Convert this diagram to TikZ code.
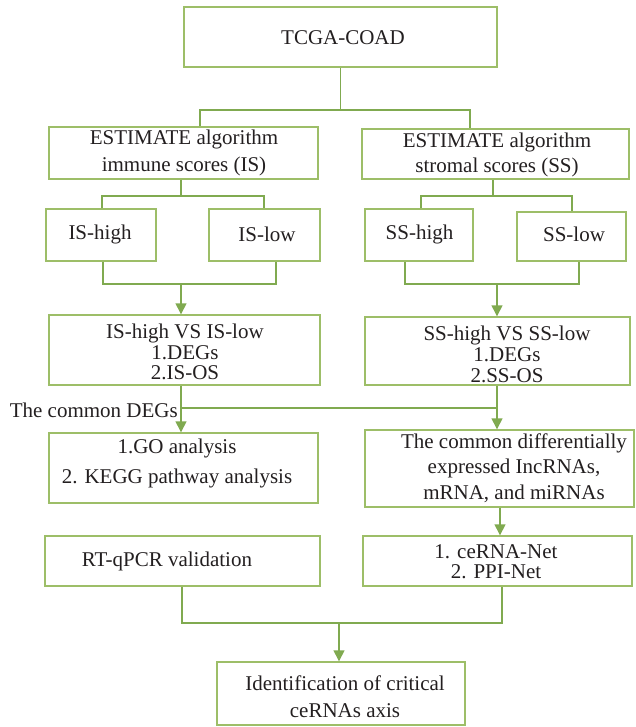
\documentclass[tikz,border=0pt]{standalone}
\usepackage{fontspec}
\setmainfont{Liberation Serif}
\usetikzlibrary{arrows.meta}
\definecolor{boxc}{RGB}{157,190,104}
\definecolor{linec}{RGB}{128,170,80}
\definecolor{txtc}{RGB}{35,31,32}
\newcommand\fsz[1]{\fontsize{21}{#1}\selectfont}
\newcommand\mkbox[5]{\node[box, minimum width={(#4-#2)*1pt}, minimum height={(#5-#3)*1pt}] (#1) at ({(#2+#4)/2},{(#3+#5)/2}) {};}
\begin{document}
\begin{tikzpicture}[x=1pt,y=-1pt,
  box/.style={draw=boxc, line width=1.4pt, inner sep=0pt, rectangle},
  txt/.style={text=txtc, align=center, inner sep=0pt},
  conn/.style={draw=linec, line width=1.4pt},
  arr/.style={conn, -{Triangle[width=11pt,length=11pt]}, fill=linec}]
\useasboundingbox (0,0) rectangle (636,727);
% boxes
\mkbox{tcga}{184}{7}{497}{67}
\mkbox{isbox}{49}{127}{318}{179}
\mkbox{ssbox}{362}{129}{629}{179}
\mkbox{ishigh}{46}{209}{156}{261}
\mkbox{islow}{209}{209}{320}{261}
\mkbox{sshigh}{365}{209}{473}{261}
\mkbox{sslow}{517}{212}{626}{261}
\mkbox{isvs}{49}{315}{320}{385}
\mkbox{ssvs}{365}{317}{630}{385}
\mkbox{go}{49}{433}{318}{503}
\mkbox{common}{365}{430}{634}{507}
\mkbox{rt}{45}{536}{320}{586}
\mkbox{cerna}{363}{536}{632}{586}
\mkbox{final}{217}{662}{465}{725}
% texts
\node[txt, font=\fsz{27}] (tcga-t) at (343,38) {TCGA-COAD};
\node[txt, font=\fsz{27}] (isbox-t) at (184,153) {ESTIMATE algorithm\\immune scores (IS)};
\node[txt, font=\fsz{25}] (ssbox-t) at (497,155) {ESTIMATE algorithm\\stromal scores (SS)};
\node[txt, font=\fsz{27}] (ishigh-t) at (100,234) {IS-high};
\node[txt, font=\fsz{27}] (islow-t) at (267,234) {IS-low};
\node[txt, font=\fsz{27}] (sshigh-t) at (419.5,234) {SS-high};
\node[txt, font=\fsz{27}] (sslow-t) at (574,234) {SS-low};
\node[txt, font=\fsz{20.5}] (isvs-t) at (185,352) {IS-high VS IS-low\\1.DEGs\\2.IS-OS};
\node[txt, font=\fsz{21}] (ssvs-t) at (507,354) {SS-high VS SS-low\\1.DEGs\\2.SS-OS};
\node[txt, font=\fsz{30}] (go-t) at (177,463) {1.GO analysis\\2. KEGG pathway analysis};
\node[txt, font=\fsz{25.5}] (common-t) at (514,468) {The common differentially\\expressed IncRNAs,\\mRNA, and miRNAs};
\node[txt, font=\fsz{27}] (rt-t) at (167,561) {RT-qPCR validation};
\node[txt, font=\fsz{20}] (cerna-t) at (496,562) {1. ceRNA-Net\\2. PPI-Net};
\node[txt, font=\fsz{27}] (final-t) at (345,696.5) {Identification of critical\\ceRNAs axis};
\node[txt, font=\fsz{27}, anchor=east] (deg-t) at (178,410) {The common DEGs};
% junction coordinates
\coordinate (a1) at (200,110); \coordinate (a2) at (470,110);
\coordinate (b0) at (181,196); \coordinate (b1) at (102,196); \coordinate (b2) at (264,196);
\coordinate (c0) at (493,196); \coordinate (c1) at (421,196); \coordinate (c2) at (572,196);
\coordinate (d0) at (181,284); \coordinate (d1) at (103,284); \coordinate (d2) at (276,284);
\coordinate (e0) at (497,284); \coordinate (e1) at (405,284); \coordinate (e2) at (579,284);
\coordinate (f0) at (181,408); \coordinate (f1) at (497,408);
\coordinate (g0) at (500,520);
\coordinate (h0) at (339,623); \coordinate (h1) at (182,623); \coordinate (h2) at (502,623);
% connectors
\draw[conn] (tcga.south) -- (tcga.south |- a1);
\draw[conn] (isbox.north -| a1) |- (a2) -- (ssbox.north -| a2);
\draw[conn] (isbox.south -| b0) -- (b0);
\draw[conn] (ishigh.north -| b1) |- (b2) -- (islow.north -| b2);
\draw[conn] (ssbox.south -| c0) -- (c0);
\draw[conn] (sshigh.north -| c1) |- (c2) -- (sslow.north -| c2);
\draw[conn] (ishigh.south -| d1) |- (d2) -- (islow.south -| d2);
\draw[arr] (d0) -- (isvs.north -| d0);
\draw[conn] (sshigh.south -| e1) |- (e2) -- (sslow.south -| e2);
\draw[arr] (e0) -- (ssvs.north -| e0);
\draw[conn] (isvs.south -| f0) -- (f0) -- (f1);
\draw[conn] (ssvs.south -| f1) -- (f1);
\draw[arr] (f0) -- (go.north -| f0);
\draw[arr] (f1) -- (common.north -| f1);
\draw[arr] (common.south -| g0) -- (cerna.north -| g0);
\draw[conn] (rt.south -| h1) |- (h2) -- (cerna.south -| h2);
\draw[arr] (h0) -- (final.north -| h0);
\end{tikzpicture}
\end{document}
